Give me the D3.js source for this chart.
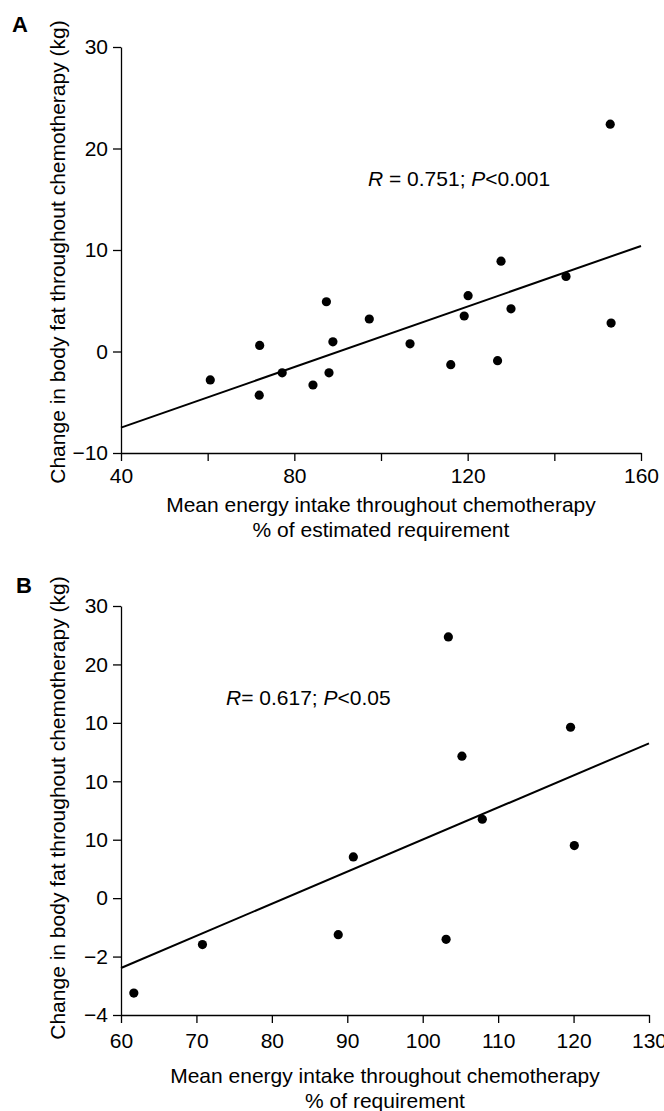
<!DOCTYPE html>
<html lang="en">
<head>
  <meta charset="UTF-8">
  <title>Body fat vs energy intake</title>
  <style>
    body { margin: 0; background: #ffffff; }
    svg { display: block; font-family: "Liberation Sans", Arial, Helvetica, sans-serif; }
    .axis text { font-size: 21px; fill: #000; }
    .axis path, .axis line { stroke: #000; stroke-width: 1.3; }
  </style>
  <script src="https://cdn.jsdelivr.net/npm/d3@7"></script>
</head>
<body>
<div id="chart"></div>
<script>
  // Panel A data: energy intake (% of estimated requirement) vs change in body fat (kg)
  var intakeA = [152.9, 127.7, 142.7, 120.1, 87.4, 130.0, 119.2, 97.3, 153.1, 88.9,
                 106.7, 72.0, 126.9, 116.1, 77.2, 88.0, 60.6, 84.3, 71.9];
  var fatA = [22.4, 8.9, 7.4, 5.5, 4.9, 4.2, 3.5, 3.2, 2.8, 0.95,
              0.76, 0.6, -0.9, -1.3, -2.1, -2.1, -2.8, -3.3, -4.3];
  var fitA = [[40, -7.5], [160, 10.4]];
  var xTicksA = [40, 60, 80, 100, 120, 140, 160];
  var xLabelsA = [40, 80, 120, 160];
  var yTicksA = [-10, 0, 10, 20, 30];

  // Panel B data: energy intake (% of requirement) vs change in body fat
  var intakeB = [103.4, 119.6, 105.2, 107.9, 120.1, 90.8, 88.8, 103.1, 70.8, 61.7];
  var fatB = [8.94, 5.85, 4.86, 2.70, 1.80, 1.41, -1.25, -1.41, -1.59, -3.25];
  var fitB = [[60, -2.39], [130, 5.3]];
  var xTicksB = [60, 70, 80, 90, 100, 110, 120, 130];
  var yTicksB = [-4, -2, 0, 2, 4, 6, 8, 10];
  var yLabelsB = ["\u22124", "\u22122", "0", "10", "10", "10", "20", "30"];

  var svg = d3.select("#chart").append("svg")
    .attr("width", 664)
    .attr("height", 1111);

  function panel(opt) {
    var x = d3.scaleLinear().domain(opt.xDomain).range(opt.xRange);
    var y = d3.scaleLinear().domain(opt.yDomain).range(opt.yRange);
    var g = svg.append("g");

    var xAxis = d3.axisBottom(x)
      .tickValues(opt.xTicks)
      .tickSize(8)
      .tickSizeOuter(0)
      .tickPadding(opt.xPad)
      .tickFormat(function(d) { return opt.xLabels.indexOf(d) >= 0 ? d : ""; });
    g.append("g").attr("class", "axis")
      .attr("transform", "translate(0," + opt.yRange[0] + ")")
      .call(xAxis);

    var yAxis = d3.axisLeft(y)
      .tickValues(opt.yTicks)
      .tickSize(8)
      .tickSizeOuter(0)
      .tickPadding(5)
      .tickFormat(opt.yFormat);
    g.append("g").attr("class", "axis")
      .attr("transform", "translate(" + opt.xRange[0] + ",0)")
      .call(yAxis);

    // regression line
    g.append("line")
      .attr("x1", x(opt.fit[0][0])).attr("y1", y(opt.fit[0][1]))
      .attr("x2", x(opt.fit[1][0])).attr("y2", y(opt.fit[1][1]))
      .attr("stroke", "#000").attr("stroke-width", 2);

    g.selectAll("circle.pt")
      .data(d3.range(opt.xs.length))
      .enter().append("circle")
      .attr("class", "pt")
      .attr("cx", function(i) { return x(opt.xs[i]); })
      .attr("cy", function(i) { return y(opt.ys[i]); })
      .attr("r", 4.6)
      .attr("fill", "#000");

    // R / P annotation
    var t = g.append("text")
      .attr("x", opt.noteX)
      .attr("y", opt.noteY)
      .attr("font-size", 21);
    t.append("tspan").attr("font-style", "italic").text("R");
    t.append("tspan").text(opt.noteR);
    t.append("tspan").attr("font-style", "italic").text("P");
    t.append("tspan").text(opt.noteP);

    // y title
    g.append("text")
      .attr("transform", "translate(65," + opt.yTitleY + ") rotate(-90)")
      .attr("text-anchor", "middle")
      .attr("font-size", 21)
      .text("Change in body fat throughout chemotherapy (kg)");

    // x titles
    var cx = (opt.xRange[0] + opt.xRange[1]) / 2;
    g.append("text")
      .attr("x", cx).attr("y", opt.xTitleY)
      .attr("text-anchor", "middle").attr("font-size", 21)
      .text("Mean energy intake throughout chemotherapy");
    g.append("text")
      .attr("x", cx).attr("y", opt.xTitleY + 25)
      .attr("text-anchor", "middle").attr("font-size", 21)
      .text(opt.xTitle2);

    // panel letter
    g.append("text")
      .attr("x", opt.letterX).attr("y", opt.letterY)
      .attr("font-size", 22).attr("font-weight", "bold")
      .text(opt.letter);
  }

  panel({
    xDomain: [40, 160], xRange: [121, 641],
    yDomain: [-10, 30], yRange: [453, 47],
    xTicks: xTicksA, xLabels: xLabelsA, xPad: 7,
    yTicks: yTicksA, yFormat: d3.format("d"),
    xs: intakeA, ys: fatA, fit: fitA,
    noteX: 368, noteY: 186, noteR: " = 0.751; ", noteP: "<0.001",
    yTitleY: 252, xTitleY: 512, xTitle2: "% of estimated requirement",
    letter: "A", letterX: 12, letterY: 32
  });

  panel({
    xDomain: [60, 130], xRange: [121, 649],
    yDomain: [-4, 10], yRange: [1015, 606],
    xTicks: xTicksB, xLabels: xTicksB, xPad: 10,
    yTicks: yTicksB, yFormat: function(d, i) { return yLabelsB[i]; },
    xs: intakeB, ys: fatB, fit: fitB,
    noteX: 226, noteY: 705, noteR: "= 0.617; ", noteP: "<0.05",
    yTitleY: 808, xTitleY: 1083, xTitle2: "% of requirement",
    letter: "B", letterX: 16, letterY: 593
  });
</script>
</body>
</html>
